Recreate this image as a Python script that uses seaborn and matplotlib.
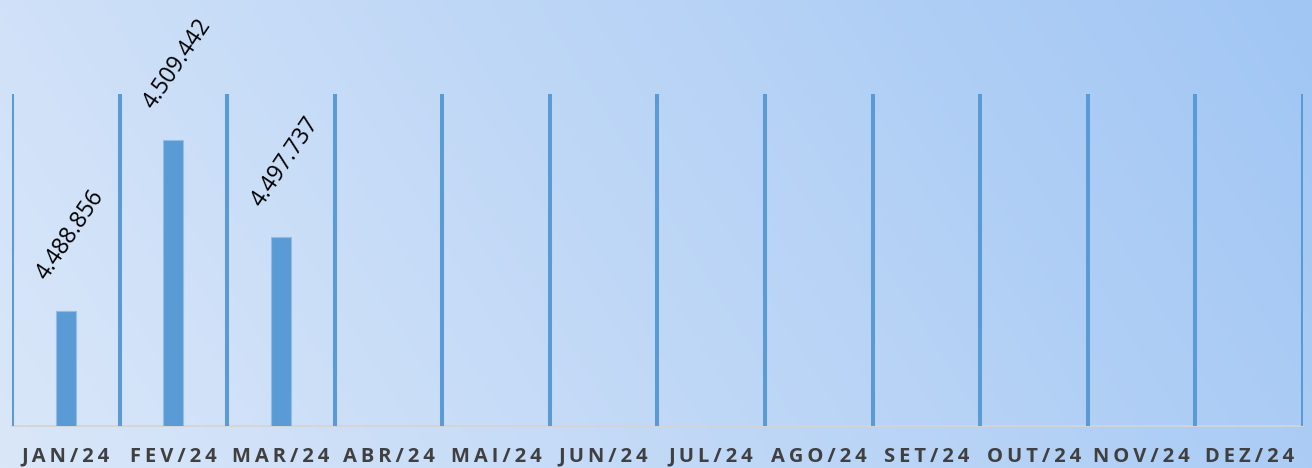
import numpy as np
import pandas as pd
import matplotlib
matplotlib.use("Agg")
import matplotlib.pyplot as plt
import seaborn as sns

# ---- data ----
months = ["JAN/24", "FEV/24", "MAR/24", "ABR/24", "MAI/24", "JUN/24",
          "JUL/24", "AGO/24", "SET/24", "OUT/24", "NOV/24", "DEZ/24"]
value_months = ["JAN/24", "FEV/24", "MAR/24"]
values = [4488856, 4509442, 4497737]
y_min, y_max = 4475000, 4515000

BLUE = "#5b9bd5"

sns.set_theme(style="white")
plt.rcParams["font.family"] = ["Open Sans", "DejaVu Sans"]

W, H, DPI = 1312, 468, 100
fig = plt.figure(figsize=(W / DPI, H / DPI), dpi=DPI)

# gradient background
bg = fig.add_axes([0, 0, 1, 1], zorder=-10)
nx, ny = 400, 150
xx = np.linspace(0, 1, nx)[None, :]
yy = np.linspace(0, 1, ny)[:, None]  # 0 = top
t = np.clip(0.82 * xx + 0.18 * (1 - yy), 0, 1)
light = np.array([218, 231, 249]) / 255
dark = np.array([161, 198, 244]) / 255
img = light[None, None, :] * (1 - t[..., None]) + dark[None, None, :] * t[..., None]
bg.imshow(img, aspect="auto", extent=[0, 1, 0, 1], interpolation="bilinear")
bg.set_axis_off()

left, right = 12 / W, 1303 / W
bottom, top = (H - 426) / H, (H - 94) / H
ax = fig.add_axes([left, bottom, right - left, top - bottom])
ax.set_facecolor("none")

df = pd.DataFrame({"month": value_months, "value": values})
sns.barplot(data=df, x="month", y="value", order=months, color=BLUE,
            width=0.186, saturation=1, edgecolor="#8fbde8", linewidth=0.8,
            ax=ax, zorder=3)

ax.set_xlim(-0.5, len(months) - 0.5)
ax.set_ylim(y_min, y_max)

# category separator lines
for k in range(len(months) + 1):
    ax.axvline(k - 0.5, color=BLUE, lw=2.9, zorder=2, solid_capstyle="butt")

for s in ["top", "right", "left"]:
    ax.spines[s].set_visible(False)
ax.spines["bottom"].set_color("#d4d4d4")
ax.spines["bottom"].set_linewidth(1.3)
ax.spines["bottom"].set_zorder(1)

ax.set_yticks([])
ax.set_xlabel("")
ax.set_ylabel("")
spaced = ["\u2009".join(m) for m in months]
ax.set_xticks(range(len(months)))
ax.set_xticklabels(spaced, fontsize=14.5, fontweight="bold", color="#404040",
                   family=["Open Sans", "DejaVu Sans"])
ax.tick_params(axis="x", length=0, pad=15)

for i, v in enumerate(values):
    ax.annotate(f"{v:,.0f}".replace(",", "."), xy=(i, v), xytext=(3, 19),
                textcoords="offset points", rotation=56, ha="center",
                va="bottom", fontsize=16.5, color="black", zorder=5)

fig.savefig("out.png", dpi=DPI)
